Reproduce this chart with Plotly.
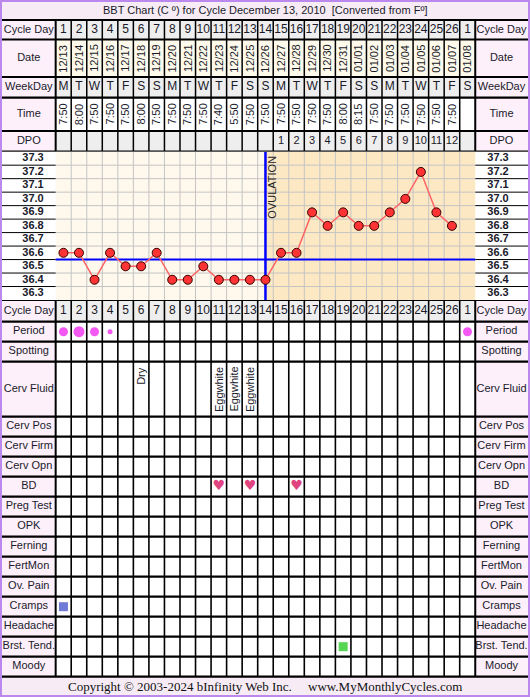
import plotly.graph_objects as go

# ---------------- data ----------------
cycle_days = [str(d) for d in range(1, 27)] + ["1"]
dates = ["12/13", "12/14", "12/15", "12/16", "12/17", "12/18", "12/19", "12/20", "12/21",
         "12/22", "12/23", "12/24", "12/25", "12/26", "12/27", "12/28", "12/29", "12/30",
         "12/31", "01/01", "01/02", "01/03", "01/04", "01/05", "01/06", "01/07", "01/08"]
weekdays = ["M", "T", "W", "T", "F", "S", "S"] * 3 + ["M", "T", "W", "T", "F", "S"]
times = ["7:50", "8:00", "7:50", "7:50", "7:50", "8:00", "7:50", "7:50", "7:50", "7:50",
         "7:40", "5:50", "7:50", "7:50", "7:50", "7:50", "7:50", "7:50", "8:00", "8:15",
         "7:50", "7:50", "7:50", "7:50", "7:50", "7:50", ""]
dpo = [""] * 14 + [str(i) for i in range(1, 13)] + [""]
temp_days = list(range(1, 27))
temps = [36.6, 36.6, 36.4, 36.6, 36.5, 36.5, 36.6, 36.4, 36.4, 36.5, 36.4, 36.4, 36.4,
         36.4, 36.6, 36.6, 36.9, 36.8, 36.9, 36.8, 36.8, 36.9, 37.0, 37.2, 36.9, 36.8]
temp_ticks = ["37.3", "37.2", "37.1", "37.0", "36.9", "36.8", "36.7", "36.6", "36.5", "36.4", "36.3"]
coverline = 36.55
ovulation_day = 14
period_cols = [1, 2, 3, 4, 27]
period_flow = [2, 3, 2, 1, 2]
cf_cols = [6, 11, 12, 13]
cf_text = ["Dry", "Eggwhite", "Eggwhite", "Eggwhite"]
bd_cols = [11, 13, 16]
cramps_cols = [1]
brst_cols = [19]
header_labels = ["Cycle Day", "Date", "WeekDay", "Time", "DPO"]
lower_labels = ["Cycle Day", "Period", "Spotting", "Cerv Fluid", "Cerv Pos", "Cerv Firm",
                "Cerv Opn", "BD", "Preg Test", "OPK", "Ferning", "FertMon", "Ov. Pain",
                "Cramps", "Headache", "Brst. Tend.", "Moody"]
title_text = "BBT Chart (C º) for Cycle December 13, 2010  [Converted from Fº]"
footer_text = "Copyright © 2003-2024 bInfinity Web Inc.     www.MyMonthlyCycles.com"

# ---------------- layout geometry (style) ----------------
W, H = 530, 697
X0, CW = 55.67, 15.54          # left edge of day columns, column width (px)
NC = len(cycle_days)


def X(px):
    return 0.5 + (px - X0) / CW


header_h = [19.5, 37.5, 20.7, 33.3, 20.7]
lower_h = [21.7, 20, 20, 55] + [20] * 13
TOP = 20
header_b = [TOP]
for h in header_h:
    header_b.append(header_b[-1] + h)
CH_TOP = header_b[-1]
CH_BOT = 300
lower_b = [CH_BOT]
for h in lower_h:
    lower_b.append(lower_b[-1] + h)
FOOT = lower_b[-1]

tmin = float(temp_ticks[-1]) - 0.05
tmax = float(temp_ticks[0]) + 0.05

SANS = "Liberation Sans, Arial, sans-serif"
SERIF = "Liberation Serif, Times New Roman, serif"
TXT = "#1a1a2a"
LBL_BG = "#fdf0fb"
XL, XR = X(2), X(528)

fig = go.Figure()
shapes = []
ann = []


def rect(x0, x1, y0, y1, fill, yref="y"):
    shapes.append(dict(type="rect", xref="x", yref=yref, x0=x0, x1=x1, y0=y0, y1=y1,
                       fillcolor=fill, line=dict(width=0), layer="below"))


def line(x0, x1, y0, y1, color, width, yref="y"):
    shapes.append(dict(type="line", xref="x", yref=yref, x0=x0, x1=x1, y0=y0, y1=y1,
                       line=dict(color=color, width=width), layer="below"))


# backgrounds
rect(X(0), X(530), 0, TOP, "#f7ecf6")
rect(X(0), X(530), FOOT, H, "#f7ecf6")
rect(XL, 0.5, TOP, FOOT, LBL_BG)
rect(NC + 0.5, XR, TOP, FOOT, LBL_BG)
rect(0.5, NC + 0.5, header_b[0], header_b[1], "#eeeeee")
rect(0.5, NC + 0.5, header_b[1], header_b[2], "#fefaeb")
rect(0.5, NC + 0.5, header_b[2], header_b[3], "#eeeeee")
rect(0.5, NC + 0.5, header_b[4], header_b[5], "#eeeeee")
rect(0.5, NC + 0.5, lower_b[0], lower_b[1], "#eeeeee")
rect(0.5, ovulation_day, tmin, tmax, "#fef9ec", yref="y2")
rect(ovulation_day, NC + 0.5, tmin, tmax, "#fde8c4", yref="y2")

# chart gridlines
for c in range(1, NC):
    line(c + 0.5, c + 0.5, tmin, tmax, "#c4c4c4", 1, yref="y2")
for k in range(1, len(temp_ticks)):
    yv = tmin + 0.1 * k
    line(0.5, NC + 0.5, yv, yv, "#c4c4c4", 1, yref="y2")
    line(XL, 0.5, yv, yv, "#000000", 1, yref="y2")
    line(NC + 0.5, XR, yv, yv, "#000000", 1, yref="y2")

# table verticals
for c in range(0, NC + 1):
    w = 2 if c in (0, NC) else 1.5
    line(c + 0.5, c + 0.5, TOP, CH_TOP, "#000000", w)
    line(c + 0.5, c + 0.5, CH_BOT, FOOT, "#000000", 2 if c in (0, NC) else 1.6)
line(0.5, 0.5, CH_TOP, CH_BOT, "#000000", 2)
line(NC + 0.5, NC + 0.5, CH_TOP, CH_BOT, "#000000", 2)

# table horizontals
for yb in header_b + lower_b:
    line(X(1), X(529), yb, yb, "#000000", 2.2)

# blue cover line & ovulation line
line(0.5, NC + 0.5, coverline, coverline, "#0000ff", 2, yref="y2")
line(ovulation_day, ovulation_day, tmin, tmax, "#0000ff", 2.5, yref="y2")

# outer border
shapes.append(dict(type="rect", xref="x", yref="y", x0=X(1), x1=X(529), y0=1, y1=H - 1,
                   line=dict(color="#bb88ee", width=2), fillcolor="rgba(0,0,0,0)", layer="above"))

cols = list(range(1, NC + 1))


def mid(b, i):
    return (b[i] + b[i + 1]) / 2


def text_trace(xs, ys, texts, size=11, color=TXT, family=SANS, yaxis="y"):
    fig.add_trace(go.Scatter(x=xs, y=ys, text=texts, mode="text", yaxis=yaxis,
                             textfont=dict(size=size, color=color, family=family),
                             textposition="middle center", hoverinfo="skip",
                             showlegend=False, cliponaxis=False))


# header row texts
text_trace(cols, [mid(header_b, 0)] * NC, cycle_days, size=12)
text_trace(cols, [mid(header_b, 2)] * NC, weekdays, size=12)
text_trace(cols, [mid(header_b, 4)] * NC, dpo, size=11)
text_trace(cols, [mid(lower_b, 0)] * NC, cycle_days, size=12)

for c, d in zip(cols, dates):
    ann.append(dict(x=c, y=mid(header_b, 1), xref="x", yref="y", text=d, textangle=-90,
                    showarrow=False, font=dict(size=11, color=TXT, family=SANS)))
for c, t in zip(cols, times):
    if t:
        ann.append(dict(x=c, y=mid(header_b, 3), xref="x", yref="y", text=t, textangle=-90,
                        showarrow=False, font=dict(size=11, color=TXT, family=SANS)))

# row labels (both sides)
for side_x in (X(28.8), X(501.5)):
    text_trace([side_x] * len(header_labels), [mid(header_b, i) for i in range(len(header_labels))],
               header_labels, size=11)
    text_trace([side_x] * len(lower_labels), [mid(lower_b, i) for i in range(len(lower_labels))],
               lower_labels, size=11)

# temperature labels
tvals = [float(t) for t in temp_ticks]
text_trace([X(33)] * len(tvals), tvals, ["<b>%s</b>" % t for t in temp_ticks], size=11, yaxis="y2")
text_trace([X(498)] * len(tvals), tvals, ["<b>%s</b>" % t for t in temp_ticks], size=11, yaxis="y2")

# ovulation label
ann.append(dict(x=ovulation_day, xshift=7, y=CH_TOP + 2, xref="x", yref="y", text="OVULATION",
                textangle=-90, yanchor="top", showarrow=False,
                font=dict(size=11, color="#222222", family=SANS)))

# temperature series
fig.add_trace(go.Scatter(x=temp_days, y=temps, yaxis="y2", mode="lines+markers",
                         line=dict(color="#ff6464", width=1.5),
                         marker=dict(size=9, color="#ff3333", line=dict(color="#330000", width=1)),
                         hoverinfo="skip", showlegend=False, cliponaxis=False))

# period
flow_size = {1: 5, 2: 9, 3: 11}
fig.add_trace(go.Scatter(x=period_cols, y=[mid(lower_b, 1)] * len(period_cols), mode="markers",
                         marker=dict(size=[flow_size[f] for f in period_flow], color="#ee11ee",
                                     line=dict(width=0)),
                         hoverinfo="skip", showlegend=False))

# cervical fluid
for c, t in zip(cf_cols, cf_text):
    ann.append(dict(x=c, y=lower_b[3] + 3, xref="x", yref="y", text=t, textangle=-90,
                    yanchor="top", showarrow=False, font=dict(size=11, color=TXT, family=SANS)))

# BD hearts
text_trace(bd_cols, [mid(lower_b, 7)] * len(bd_cols), ["♥"] * len(bd_cols), size=14,
           color="#e0457f", family="DejaVu Sans")

# cramps / breast tenderness squares
fig.add_trace(go.Scatter(x=cramps_cols, y=[mid(lower_b, 13)] * len(cramps_cols), mode="markers",
                         marker=dict(symbol="square", size=9, color="#6f7bd6", line=dict(width=0)),
                         hoverinfo="skip", showlegend=False))
fig.add_trace(go.Scatter(x=brst_cols, y=[mid(lower_b, 15)] * len(brst_cols), mode="markers",
                         marker=dict(symbol="square", size=9, color="#55d655", line=dict(width=0)),
                         hoverinfo="skip", showlegend=False))

# title & footer
ann.append(dict(x=X(265), y=TOP / 2, xref="x", yref="y", text=title_text, showarrow=False,
                font=dict(size=11, color=TXT, family=SANS)))
ann.append(dict(x=X(265), y=(FOOT + H) / 2, xref="x", yref="y", text=footer_text, showarrow=False,
                font=dict(size=13, color="#111111", family=SERIF)))

fig.update_layout(
    width=W, height=H, margin=dict(l=0, r=0, t=0, b=0),
    paper_bgcolor="white", plot_bgcolor="white",
    xaxis=dict(range=[X(0), X(W)], visible=False, fixedrange=True),
    yaxis=dict(range=[H, 0], visible=False, domain=[0, 1], fixedrange=True),
    yaxis2=dict(range=[tmin, tmax], visible=False, anchor="x",
                domain=[(H - CH_BOT) / H, (H - CH_TOP) / H], fixedrange=True),
    shapes=shapes, annotations=ann, showlegend=False,
)

fig.write_html("out.html", config={"displayModeBar": False},
               post_script="document.body.style.margin='0';document.body.style.overflow='hidden';")
